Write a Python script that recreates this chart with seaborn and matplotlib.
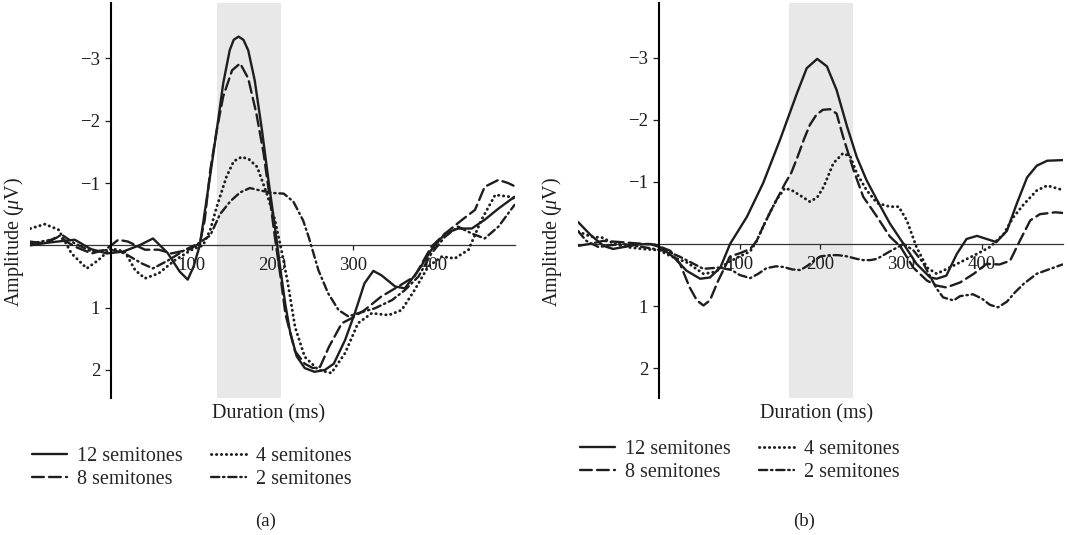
import matplotlib
matplotlib.use("Agg")
import pandas as pd
import matplotlib.pyplot as plt
import seaborn as sns

# --- values: time (ms) / amplitude (uV) per condition ---
# panel (a)
t_a12 = [-100, -80, -60, -45, -25, -5, 15, 35, 52, 70, 85, 95, 102, 110, 122, 131, 139, 147, 152, 158,
         164, 170, 178, 187, 195, 203, 209, 216, 222, 230, 240, 252, 265, 276, 290, 302, 314, 325, 335, 352,
         364, 381, 397, 414, 430, 447, 463, 480, 500]
v_a12 = [0.0, -0.04, -0.07, -0.09, 0.06, 0.13, 0.1, 0.0, -0.11, 0.12, 0.42, 0.55, 0.35, 0.0, -1.05, -1.85, -2.6, -3.13, -3.3, -3.35,
         -3.3, -3.13, -2.65, -1.85, -1.05, -0.3, 0.3, 0.95, 1.4, 1.78, 1.97, 2.03, 2.0, 1.9, 1.52, 1.09, 0.61, 0.41, 0.48, 0.66,
         0.69, 0.4, 0.07, -0.19, -0.27, -0.27, -0.41, -0.59, -0.78]

t_a8 = [-100, -82, -65, -45, -24, -7, 9, 21, 42, 59, 75, 96, 110, 116, 123, 131, 139, 150, 160, 170,
        180, 189, 197, 203, 210, 216, 228, 240, 250, 259, 270, 286, 298, 314, 335, 356, 376, 397, 414, 435,
        451, 463, 480, 492, 500]
v_a8 = [-0.06, -0.03, -0.14, 0.02, 0.13, 0.07, -0.09, -0.06, 0.07, 0.07, 0.13, 0.07, -0.03, -0.4, -1.21, -1.85, -2.39, -2.81, -2.92, -2.68,
        -2.12, -1.48, -0.73, -0.13, 0.5, 1.1, 1.7, 1.9, 1.97, 1.95, 1.63, 1.25, 1.17, 1.04, 0.82, 0.66, 0.5, 0.02, -0.19, -0.41,
        -0.57, -0.94, -1.05, -1.0, -0.95]

t_a4 = [-100, -82, -65, -49, -30, -16, 0, 17, 30, 42, 59, 79, 100, 114, 123, 131, 143, 152, 162, 171,
        181, 193, 203, 212, 219, 228, 240, 257, 273, 290, 306, 323, 344, 360, 376, 393, 410, 426, 443, 459,
        476, 494, 500]
v_a4 = [-0.27, -0.34, -0.25, 0.13, 0.37, 0.24, 0.05, 0.1, 0.4, 0.53, 0.45, 0.24, 0.07, 0.0, -0.25, -0.62, -1.1, -1.35, -1.42, -1.38,
        -1.26, -0.83, -0.41, 0.13, 0.6, 1.31, 1.79, 2.0, 2.05, 1.73, 1.25, 1.09, 1.12, 1.04, 0.72, 0.34, 0.18, 0.21, 0.07, -0.41,
        -0.81, -0.78, -0.75]

t_a2 = [-100, -74, -61, -45, -24, 0, 17, 38, 52, 71, 92, 108, 123, 135, 148, 160, 172, 185, 201, 214,
        226, 238, 245, 257, 269, 282, 294, 306, 327, 348, 364, 381, 397, 414, 430, 447, 463, 480, 500]
v_a2 = [-0.03, -0.09, -0.17, -0.03, 0.1, 0.07, 0.13, 0.29, 0.37, 0.24, 0.07, -0.03, -0.16, -0.5, -0.71, -0.85, -0.92, -0.88, -0.84, -0.83,
        -0.7, -0.4, -0.13, 0.4, 0.77, 1.04, 1.14, 1.09, 1.01, 0.88, 0.72, 0.5, 0.13, -0.14, -0.3, -0.19, -0.11, -0.3, -0.65]

# panel (b)
t_b12 = [-100, -86, -69, -57, -44, -28, -11, 1, 18, 34, 51, 63, 76, 88, 109, 129, 150, 171, 183, 196,
         208, 220, 233, 245, 257, 270, 286, 303, 319, 336, 344, 356, 369, 381, 394, 406, 418, 431, 443, 456,
         468, 481, 500]
v_b12 = [-0.35, -0.16, 0.03, 0.08, 0.05, 0.01, 0.0, 0.05, 0.21, 0.43, 0.56, 0.54, 0.38, 0.0, -0.44, -0.98, -1.68, -2.43, -2.83, -2.98,
         -2.86, -2.48, -1.89, -1.4, -1.03, -0.71, -0.33, 0.0, 0.32, 0.54, 0.56, 0.51, 0.16, -0.08, -0.13, -0.08, -0.03, -0.21, -0.64, -1.07,
         -1.26, -1.34, -1.35]

t_b8 = [-100, -86, -69, -48, -28, -5, 14, 26, 38, 47, 55, 63, 73, 88, 100, 113, 121, 129, 138, 146,
        156, 164, 171, 180, 187, 195, 203, 212, 220, 228, 241, 253, 270, 286, 299, 315, 332, 344, 356, 373,
        390, 406, 422, 435, 447, 460, 472, 491, 500]
v_b8 = [0.03, 0.0, -0.05, -0.03, -0.01, 0.01, 0.11, 0.32, 0.70, 0.91, 0.99, 0.91, 0.6, 0.2, 0.15, 0.08, -0.05, -0.28, -0.52, -0.72,
        -0.97, -1.15, -1.38, -1.7, -1.92, -2.08, -2.16, -2.17, -2.1, -1.73, -1.19, -0.76, -0.44, -0.12, 0.04, 0.38, 0.59, 0.67, 0.70, 0.62,
        0.48, 0.32, 0.33, 0.27, -0.05, -0.38, -0.48, -0.51, -0.5]

t_b4 = [-100, -85, -70, -55, -40, -20, 0, 15, 35, 55, 70, 85, 100, 113, 121, 129, 138, 146, 156, 165,
        175, 187, 196, 204, 216, 228, 237, 245, 257, 270, 286, 297, 307, 319, 332, 344, 360, 377, 394, 410,
        427, 439, 452, 468, 481, 500]
v_b4 = [-0.2, -0.12, -0.1, 0.0, 0.05, 0.08, 0.1, 0.2, 0.3, 0.48, 0.45, 0.3, 0.2, 0.12, -0.05, -0.28, -0.52, -0.72, -0.9, -0.86,
        -0.78, -0.68, -0.75, -0.92, -1.3, -1.46, -1.41, -1.14, -0.87, -0.66, -0.6, -0.6, -0.38, 0.05, 0.38, 0.48, 0.38, 0.27, 0.16, 0.05,
        -0.16, -0.43, -0.64, -0.86, -0.94, -0.87]

t_b2 = [-100, -90, -75, -60, -45, -30, -10, 10, 25, 40, 55, 75, 90, 100, 113, 123, 133, 145, 154, 165,
        175, 183, 191, 200, 212, 222, 233, 245, 253, 262, 270, 286, 303, 315, 327, 337, 344, 352, 365, 373,
        389, 400, 410, 420, 431, 441, 452, 468, 485, 500]
v_b2 = [-0.2, -0.05, 0.05, 0.02, 0.0, 0.03, 0.07, 0.12, 0.2, 0.3, 0.4, 0.38, 0.42, 0.5, 0.55, 0.48, 0.39, 0.36, 0.37, 0.41,
        0.42, 0.36, 0.28, 0.2, 0.18, 0.18, 0.2, 0.24, 0.26, 0.26, 0.24, 0.12, 0.0, 0.1, 0.3, 0.55, 0.72, 0.86, 0.91, 0.84,
        0.81, 0.88, 0.98, 1.02, 0.93, 0.78, 0.64, 0.48, 0.4, 0.33]

conditions = ["12 semitones", "8 semitones", "4 semitones", "2 semitones"]
series = {
    "a": [(t_a12, v_a12), (t_a8, v_a8), (t_a4, v_a4), (t_a2, v_a2)],
    "b": [(t_b12, v_b12), (t_b8, v_b8), (t_b4, v_b4), (t_b2, v_b2)],
}
shade_windows = {"a": (131, 210), "b": (161, 240)}
y_ticks = [-3, -2, -1, 1, 2]
x_ticks = [100, 200, 300, 400]

# long format table
rows = []
for panel, curves in series.items():
    for cond, (t, v) in zip(conditions, curves):
        for ti, vi in zip(t, v):
            rows.append({"panel": panel, "condition": cond, "time_ms": ti, "amplitude": vi})
df = pd.DataFrame(rows)

line_styles = {
    "12 semitones": ("-", 1.7),
    "8 semitones": ((0, (5, 2.2)), 1.7),
    "4 semitones": ((0, (0.1, 1.6)), 2.1),
    "2 semitones": ((0, (3.5, 1.6, 0.6, 1.6)), 1.7),
}
ink = "#1e1e1e"
fs_tick = 13.5
fs = 14.5

sns.set_theme(style="white")
plt.rcParams["font.family"] = ["Liberation Serif", "DejaVu Serif"]
plt.rcParams["mathtext.fontset"] = "custom"
plt.rcParams["mathtext.rm"] = "Liberation Serif"
plt.rcParams["mathtext.it"] = "Liberation Serif:italic"

fig = plt.figure(figsize=(10.68, 5.35), dpi=100)

layout = {
    # left edge (fig frac), ylim, ylabel x, legend anchor, caption x
    "a": dict(left=0.0284, ylim=(2.45, -3.89), ylab_x=-0.008, leg=(0.0297, 0.1654), cap_x=0.2491),
    "b": dict(left=0.5415, ylim=(2.48, -3.88), ylab_x=-0.029, leg=(0.5428, 0.1785), cap_x=0.7530),
}

for panel, cfg in layout.items():
    ax = fig.add_axes([cfg["left"], 0.2561, 0.4534, 0.7383])
    lo, hi = shade_windows[panel]
    ax.axvspan(lo, hi, color="#e8e8e8", lw=0, zorder=0)

    sub = df[df["panel"] == panel]
    for cond in conditions:
        part = sub[sub["condition"] == cond]
        ls, lw = line_styles[cond]
        sns.lineplot(data=part, x="time_ms", y="amplitude", ax=ax, color=ink,
                     linestyle=ls, linewidth=lw, dash_capstyle="round",
                     estimator=None, sort=False, label=cond, zorder=3)

    ax.set_xlim(-100, 500)
    ax.set_ylim(*cfg["ylim"])
    ax.set_xticks(x_ticks)
    ax.set_yticks(y_ticks)
    ax.set_yticklabels([f"\u2212{abs(v)}" if v < 0 else str(v) for v in y_ticks])

    for side in ["top", "right"]:
        ax.spines[side].set_visible(False)
    ax.spines["left"].set_position(("data", 0))
    ax.spines["left"].set_linewidth(1.5)
    ax.spines["left"].set_color("black")
    ax.spines["bottom"].set_position(("data", 0))
    ax.spines["bottom"].set_linewidth(0.9)
    ax.spines["bottom"].set_color("#333333")
    ax.spines["left"].set_zorder(4)

    ax.tick_params(axis="y", direction="out", length=4.3, width=0.9, pad=3.5,
                   labelsize=fs_tick, colors=ink, left=True)
    ax.tick_params(axis="x", direction="out", length=3.6, width=0.9, pad=5,
                   labelsize=fs_tick, colors=ink, bottom=True)

    ax.set_ylabel("Amplitude ($\\mu$V)", fontsize=fs, color=ink)
    ax.yaxis.set_label_coords(cfg["ylab_x"], 0.394)
    ax.set_xlabel("Duration (ms)", fontsize=fs, color=ink)
    ax.xaxis.set_label_coords(0.491, -0.016)
    ax.set_facecolor("none")

    handles, labels = ax.get_legend_handles_labels()
    ax.legend(handles, labels, ncol=2, loc="upper left", bbox_to_anchor=cfg["leg"],
              bbox_transform=fig.transFigure, frameon=False, fontsize=fs,
              handlelength=1.75, handletextpad=0.5, columnspacing=1.4,
              labelspacing=0.2, borderpad=0, borderaxespad=0)

    fig.text(cfg["cap_x"], 0.0249, f"({panel})", ha="center", va="center",
             fontsize=fs_tick, color=ink)

fig.savefig("out.png", dpi=100, facecolor="white")
